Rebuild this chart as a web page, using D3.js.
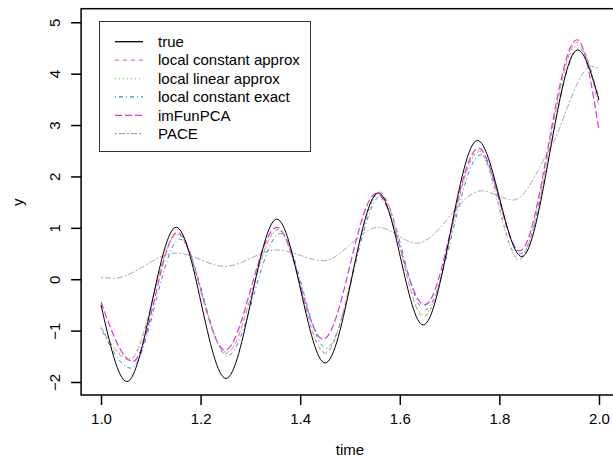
<!DOCTYPE html>
<html lang="en">
<head>
<meta charset="utf-8">
<title>fit</title>
<script src="https://d3js.org/d3.v7.min.js"></script>
<style>
body { margin: 0; background: #fff; }
text { font-family: "Liberation Sans", Arial, sans-serif; }
</style>
</head>
<body>
<div id="container"></div>
<script>
// knots (time) and values, one pair per curve
var tTrue    = [1.0, 1.052, 1.151, 1.251, 1.353, 1.450, 1.557, 1.647, 1.756, 1.845, 1.957, 2.0];
var yTrue    = [-0.50, -1.99, 1.01, -1.93, 1.17, -1.63, 1.68, -0.89, 2.70, 0.44, 4.46, 3.49];

var tLcApprox = [1.0, 1.057, 1.153, 1.252, 1.355, 1.450, 1.560, 1.648, 1.758, 1.840, 1.957, 2.0];
var yLcApprox = [-0.95, -1.57, 0.89, -1.44, 0.97, -1.44, 1.70, -0.73, 2.50, 0.39, 4.61, 3.35];

var tLlApprox = [1.0, 1.057, 1.153, 1.252, 1.355, 1.450, 1.560, 1.648, 1.758, 1.838, 1.957, 2.0];
var yLlApprox = [-0.92, -1.55, 0.87, -1.42, 0.95, -1.42, 1.67, -0.70, 2.47, 0.38, 4.56, 3.40];

var tLcExact = [1.0, 1.060, 1.158, 1.254, 1.360, 1.452, 1.562, 1.650, 1.762, 1.843, 1.960, 2.0];
var yLcExact = [-0.95, -1.73, 0.78, -1.49, 0.89, -1.34, 1.62, -0.60, 2.42, 0.50, 4.49, 3.50];

var tImFun = [1.0, 1.064, 1.153, 1.249, 1.353, 1.446, 1.553, 1.650, 1.758, 1.841, 1.956, 2.0];
var yImFun = [-0.44, -1.60, 0.91, -1.38, 1.01, -1.17, 1.67, -0.50, 2.55, 0.55, 4.66, 2.90];

var tPace = [1.0, 1.025, 1.151, 1.249, 1.353, 1.446, 1.557, 1.634, 1.764, 1.828, 1.902, 1.985, 2.0];
var yPace = [0.04, 0.02, 0.51, 0.25, 0.57, 0.36, 1.01, 0.70, 1.72, 1.54, 2.55, 4.14, 4.10];

var xTicks = [1.0, 1.2, 1.4, 1.6, 1.8, 2.0];
var yTicks = [-2, -1, 0, 1, 2, 3, 4, 5];

var legendNames = ["true", "local constant approx", "local linear approx", "local constant exact", "imFunPCA", "PACE"];

var w = 613, h = 458;
var svg = d3.select("#container").append("svg")
    .attr("width", w).attr("height", h)
    .style("background-color", "#ffffff");

// plot box (right edge falls outside the picture, as in the reference)
var boxL = 81.1, boxR = 618.9, boxT = 8.7, boxB = 395;
var x = d3.scaleLinear().domain([0.96, 2.04]).range([boxL, boxR]);
var y = d3.scaleLinear().domain([-2.253, 5.264]).range([boxB, boxT]);

var series = [
    {t: tTrue,     v: yTrue,     color: "#000000", dash: null,      width: 1},
    {t: tLcApprox, v: yLcApprox, color: "#f07890", dash: "4,4",     width: 1},
    {t: tLlApprox, v: yLlApprox, color: "#66dd55", dash: "1,3",     width: 1.2},
    {t: tLcExact,  v: yLcExact,  color: "#1e8fe6", dash: "1,3,4,3", width: 1},
    {t: tImFun,    v: yImFun,    color: "#e52ee5", dash: "7,3",     width: 1.2},
    {t: tPace,     v: yPace,     color: "#a8a8a8", dash: "2,2,6,2", width: 1}
];

var line = d3.line()
    .x(function(d) { return x(d[0]); })
    .y(function(d) { return y(d[1]); })
    .curve(d3.curveMonotoneX);

svg.append("g").selectAll("path")
    .data(series.slice().reverse())
    .enter()
    .append("path")
    .attr("d", function(s) { return line(d3.zip(s.t, s.v)); })
    .attr("fill", "none")
    .attr("stroke", function(s) { return s.color; })
    .attr("stroke-width", function(s) { return s.width; })
    .attr("stroke-dasharray", function(s) { return s.dash; });

// axes, R style
var xAxis = svg.append("g")
    .attr("transform", "translate(0," + boxB + ")")
    .call(d3.axisBottom(x).tickValues(xTicks).tickSize(10).tickPadding(8)
        .tickFormat(d3.format(".1f")));
var yAxis = svg.append("g")
    .attr("transform", "translate(" + boxL + ",0)")
    .call(d3.axisLeft(y).tickValues(yTicks).tickSize(10).tickFormat(d3.format("d")));

[xAxis, yAxis].forEach(function(a) {
    a.select(".domain").remove();
    a.selectAll("line").attr("stroke", "#000").attr("stroke-width", 1.5);
    a.selectAll("text").attr("fill", "#000").style("font-size", "15px")
        .style("font-family", "'Liberation Sans', Arial, sans-serif");
});
xAxis.selectAll("text").attr("y", 18).attr("dy", "0.71em");
yAxis.selectAll("text")
    .attr("text-anchor", "middle")
    .attr("x", null).attr("dy", null)
    .attr("transform", "translate(-21,0) rotate(-90)");

svg.append("rect")
    .attr("x", boxL).attr("y", boxT)
    .attr("width", boxR - boxL).attr("height", boxB - boxT)
    .attr("fill", "none").attr("stroke", "#000").attr("stroke-width", 1.5);

svg.append("text")
    .attr("x", x(1.5)).attr("y", 455)
    .attr("text-anchor", "middle")
    .style("font-size", "15px")
    .text("time");
svg.append("text")
    .attr("transform", "translate(23," + y(1.5) + ") rotate(-90)")
    .attr("text-anchor", "middle")
    .style("font-size", "15px")
    .text("y");

// legend
var lg = svg.append("g");
lg.append("rect")
    .attr("x", 99.5).attr("y", 21.5).attr("width", 211).attr("height", 130)
    .attr("fill", "#fff").attr("stroke", "#333").attr("stroke-width", 1);
var rows = lg.selectAll("g.row")
    .data(series)
    .enter()
    .append("g")
    .attr("class", "row")
    .attr("transform", function(s, i) { return "translate(0," + (41.7 + i * 18.4) + ")"; });
rows.append("line")
    .attr("x1", 115).attr("x2", 143)
    .attr("stroke", function(s) { return s.color; })
    .attr("stroke-width", 1.3)
    .attr("stroke-dasharray", function(s) { return s.dash; });
rows.append("text")
    .attr("x", 158).attr("dy", "0.35em")
    .style("font-size", "15px")
    .text(function(s, i) { return legendNames[i]; });
</script>
</body>
</html>
